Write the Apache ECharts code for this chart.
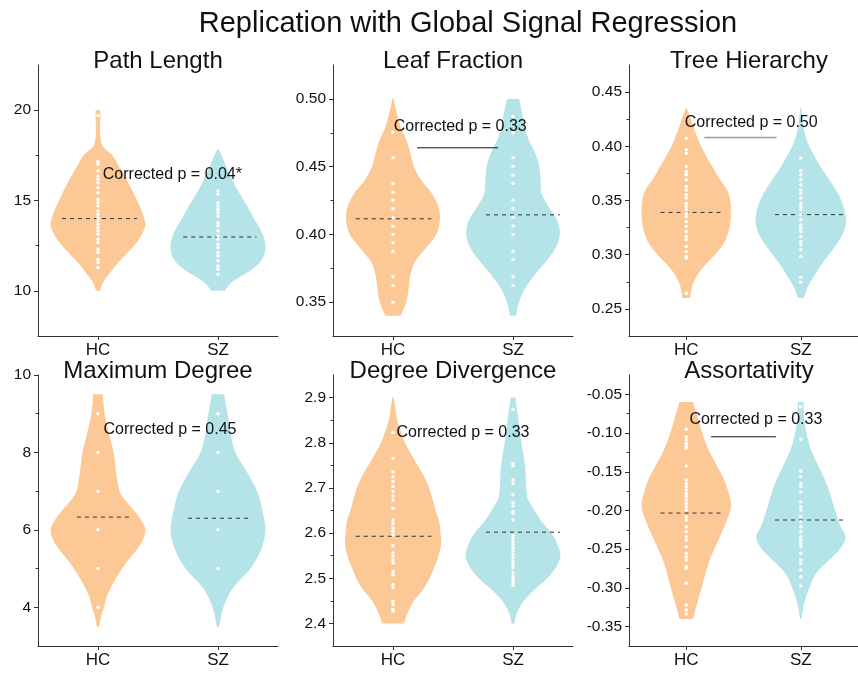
<!DOCTYPE html>
<html>
<head>
<meta charset="utf-8">
<script src="https://cdn.jsdelivr.net/npm/echarts@6/dist/echarts.min.js"></script>
<style>
html,body{margin:0;padding:0;background:#fff;}
#chart{width:858px;height:675px;}
</style>
</head>
<body>
<div id="chart"></div>
<script>
// ---------------- DATA ----------------
const categories = ['HC', 'SZ'];
const mainTitle = 'Replication with Global Signal Regression';
const panelTitles = ['Path Length', 'Leaf Fraction', 'Tree Hierarchy', 'Maximum Degree', 'Degree Divergence', 'Assortativity'];
const pLabels = ['Corrected p = 0.04*', 'Corrected p = 0.33', 'Corrected p = 0.50', 'Corrected p = 0.45', 'Corrected p = 0.33', 'Corrected p = 0.33'];

// axis extents and labelled ticks
const pathLengthRange = [7.5, 22.5];   const pathLengthTicks = [10, 15, 20];
const leafFractionRange = [0.325, 0.525]; const leafFractionTicks = [0.35, 0.40, 0.45, 0.50];
const treeHierarchyRange = [0.225, 0.475]; const treeHierarchyTicks = [0.25, 0.30, 0.35, 0.40, 0.45];
const maxDegreeRange = [3, 10];        const maxDegreeTicks = [4, 6, 8, 10];
const degreeDivRange = [2.35, 2.95];   const degreeDivTicks = [2.4, 2.5, 2.6, 2.7, 2.8, 2.9];
const assortRange = [-0.375, -0.025];  const assortTicks = [-0.35, -0.30, -0.25, -0.20, -0.15, -0.10, -0.05];

// individual subject values (white dots)
const pathLengthHC = [19.7,17.15,17.0,16.63,16.35,16.17,15.98,15.7,15.43,15.06,14.88,14.7,14.42,14.24,14.05,13.87,13.68,13.5,13.31,13.13,12.85,12.67,12.3,12.12,11.75,11.57,11.29];
const pathLengthSZ = [15.52,15.34,14.88,14.7,14.5,14.33,14.14,13.78,13.6,13.31,13.04,12.85,12.58,12.4,12.12,11.93,11.66,11.38,11.2,10.92];
const leafFractionHC = [0.4754,0.4565,0.4375,0.4311,0.4252,0.4189,0.4122,0.406,0.40,0.3938,0.3876,0.3687,0.3623,0.35];
const leafFractionSZ = [0.4872,0.4749,0.4565,0.4503,0.4437,0.4375,0.4252,0.4189,0.4127,0.4061,0.40,0.3876,0.3815,0.3687,0.3623];
const treeHierarchyHC = [0.4075,0.3968,0.3937,0.3814,0.3768,0.3737,0.3691,0.3629,0.3598,0.3552,0.3522,0.3475,0.3445,0.3414,0.3383,0.3352,0.3306,0.326,0.3214,0.3168,0.3137,0.3075,0.3029,0.2983,0.2968,0.2645];
const treeHierarchySZ = [0.3891,0.3774,0.3737,0.3691,0.3645,0.3598,0.3568,0.3522,0.3475,0.3445,0.3414,0.3368,0.3322,0.3275,0.3245,0.3214,0.3168,0.3122,0.3091,0.3045,0.2983,0.2792,0.2746];
const maxDegreeHC = [9, 8, 7, 6, 5, 4];
const maxDegreeSZ = [9, 8, 7, 6, 5];
const degreeDivHC = [2.823,2.765,2.736,2.725,2.714,2.703,2.692,2.682,2.673,2.655,2.629,2.622,2.611,2.604,2.596,2.572,2.556,2.549,2.541,2.534,2.515,2.508,2.486,2.479,2.449,2.442,2.431,2.427];
const degreeDivSZ = [2.874,2.754,2.749,2.718,2.71,2.685,2.667,2.66,2.648,2.644,2.629,2.596,2.589,2.582,2.574,2.567,2.56,2.552,2.545,2.537,2.53,2.523,2.512,2.504,2.497,2.49,2.484];
const assortHC = [-0.0952,-0.1047,-0.109,-0.1134,-0.1176,-0.1197,-0.1426,-0.1606,-0.165,-0.1693,-0.1735,-0.178,-0.182,-0.1865,-0.191,-0.195,-0.1995,-0.208,-0.2123,-0.221,-0.2274,-0.234,-0.238,-0.2467,-0.2553,-0.2596,-0.264,-0.2726,-0.2747,-0.294,-0.322,-0.3285,-0.3336];
const assortSZ = [-0.0659,-0.1081,-0.149,-0.1563,-0.165,-0.169,-0.1757,-0.1886,-0.195,-0.1995,-0.208,-0.2145,-0.221,-0.2274,-0.234,-0.238,-0.2425,-0.2467,-0.2553,-0.264,-0.2683,-0.277,-0.2855,-0.2975];

// group medians (dashed lines)
const pathLengthMedians = [14.0, 12.98];
const leafFractionMedians = [0.4115, 0.4144];
const treeHierarchyMedians = [0.339, 0.337];
const maxDegreeMedians = [6.33, 6.30];
const degreeDivMedians = [2.593, 2.602];
const assortMedians = [-0.2033, -0.2123];

// violin density profiles: [value, relative density (fraction of half band)]
const pathLengthHCViolin = [[20,0.04],[19.5,0.04],[19,0.035],[18.5,0.04],[18,0.08],[17.5,0.24],[17,0.33],[16.5,0.42],[16,0.5],[15.5,0.58],[15,0.65],[14.5,0.72],[14,0.77],[13.6,0.79],[13,0.71],[12.5,0.6],[12,0.46],[11.5,0.32],[11,0.2],[10.5,0.09],[10,0.03]];
const pathLengthSZViolin = [[17.83,0.01],[17.5,0.06],[17,0.12],[16.5,0.19],[16,0.26],[15.5,0.34],[15,0.43],[14.5,0.52],[14,0.6],[13.5,0.69],[13,0.76],[12.5,0.79],[12,0.77],[11.5,0.68],[11,0.48],[10.5,0.24],[10,0.11]];
const leafFractionHCViolin = [[0.50,0.01],[0.49,0.06],[0.48,0.12],[0.47,0.22],[0.46,0.29],[0.45,0.35],[0.44,0.47],[0.43,0.65],[0.42,0.76],[0.41,0.78],[0.40,0.72],[0.39,0.55],[0.38,0.37],[0.37,0.29],[0.36,0.26],[0.35,0.22],[0.34,0.13]];
const leafFractionSZViolin = [[0.50,0.10],[0.49,0.15],[0.48,0.19],[0.47,0.26],[0.46,0.37],[0.45,0.44],[0.44,0.46],[0.43,0.48],[0.42,0.6],[0.41,0.74],[0.40,0.78],[0.39,0.71],[0.38,0.55],[0.37,0.36],[0.36,0.2],[0.35,0.1],[0.34,0.05]];
const treeHierarchyHCViolin = [[0.435,0.01],[0.43,0.05],[0.42,0.11],[0.41,0.18],[0.40,0.26],[0.39,0.36],[0.38,0.47],[0.37,0.58],[0.36,0.71],[0.35,0.77],[0.34,0.78],[0.33,0.77],[0.32,0.73],[0.31,0.65],[0.30,0.5],[0.29,0.32],[0.28,0.18],[0.27,0.1],[0.26,0.07]];
const treeHierarchySZViolin = [[0.435,0.01],[0.43,0.02],[0.42,0.04],[0.41,0.08],[0.40,0.15],[0.39,0.25],[0.38,0.36],[0.37,0.49],[0.36,0.61],[0.35,0.71],[0.34,0.77],[0.33,0.79],[0.32,0.74],[0.31,0.63],[0.30,0.49],[0.29,0.35],[0.28,0.23],[0.27,0.12],[0.26,0.05]];
const maxDegreeHCViolin = [[9.5,0.08],[9,0.11],[8.5,0.18],[8,0.26],[7.5,0.3],[7,0.36],[6.75,0.46],[6.5,0.6],[6.25,0.72],[6,0.79],[5.75,0.75],[5.5,0.65],[5.25,0.52],[5,0.4],[4.75,0.3],[4.5,0.21],[4.25,0.14],[4,0.1],[3.75,0.05],[3.5,0.02]];
const maxDegreeSZViolin = [[9.5,0.1],[9,0.16],[8.5,0.21],[8,0.29],[7.5,0.48],[7,0.65],[6.5,0.74],[6,0.79],[5.5,0.72],[5,0.54],[4.5,0.25],[4,0.09],[3.5,0.02]];
const degreeDivHCViolin = [[2.9,0.01],[2.875,0.04],[2.85,0.07],[2.825,0.13],[2.8,0.2],[2.775,0.3],[2.75,0.41],[2.725,0.52],[2.7,0.6],[2.675,0.66],[2.65,0.71],[2.625,0.77],[2.6,0.79],[2.575,0.8],[2.55,0.76],[2.525,0.69],[2.5,0.61],[2.475,0.5],[2.45,0.35],[2.425,0.25],[2.4,0.18]];
const degreeDivSZViolin = [[2.9,0.04],[2.85,0.09],[2.8,0.14],[2.75,0.2],[2.7,0.22],[2.675,0.25],[2.65,0.36],[2.625,0.48],[2.6,0.64],[2.575,0.74],[2.55,0.79],[2.525,0.72],[2.5,0.57],[2.475,0.36],[2.45,0.18],[2.425,0.07],[2.4,0.02]];
const assortHCViolin = [[-0.06,0.12],[-0.08,0.2],[-0.1,0.28],[-0.12,0.38],[-0.14,0.52],[-0.16,0.66],[-0.18,0.75],[-0.19,0.78],[-0.2,0.77],[-0.22,0.67],[-0.24,0.55],[-0.26,0.43],[-0.28,0.34],[-0.30,0.27],[-0.32,0.19],[-0.34,0.12]];
const assortSZViolin = [[-0.06,0.05],[-0.08,0.06],[-0.1,0.1],[-0.12,0.17],[-0.14,0.29],[-0.16,0.42],[-0.18,0.52],[-0.2,0.6],[-0.22,0.69],[-0.235,0.78],[-0.25,0.68],[-0.26,0.55],[-0.28,0.28],[-0.30,0.15],[-0.32,0.06],[-0.34,0.01]];

// ---------------- LAYOUT / STYLE ----------------
const FONT = "'Liberation Sans', Arial, Helvetica, sans-serif";
const groupColors = ['#FCC896', '#B4E3E8'];
const gridPos = [[38, 65], [333, 65], [629, 65], [38, 375], [333, 375], [629, 375]];
const gridW = 240, gridH = 271;
const titleY = [61.5, 61.5, 61.5, 371, 371, 371];
const decimals = [0, 2, 2, 0, 1, 2];
const annoLayout = [
  { tx: 0.62, ty: 16.45, line: null },
  { tx: 0.56, ty: 0.4796, line: { x1: 0.2, x2: 0.875, y: 0.4639, color: '#111', w: 1 } },
  { tx: 0.567, ty: 0.422, line: { x1: 0.158, x2: 0.79, y: 0.4081, color: '#9c9c9c', w: 1.5 } },
  { tx: 0.6, ty: 8.58, line: null },
  { tx: 0.583, ty: 2.823, line: null },
  { tx: 0.608, ty: -0.0832, line: { x1: 0.217, x2: 0.783, y: -0.1048, color: '#111', w: 1 } }
];
const medianSpan = [
  [[-0.30, 0.325], [-0.29, 0.32]],
  [[-0.31, 0.32], [-0.225, 0.39]],
  [[-0.225, 0.32], [-0.225, 0.39]],
  [[-0.175, 0.26], [-0.25, 0.26]],
  [[-0.31, 0.32], [-0.225, 0.39]],
  [[-0.225, 0.32], [-0.225, 0.39]]
];

const panels = [
  { range: pathLengthRange, ticks: pathLengthTicks, points: [pathLengthHC, pathLengthSZ], profiles: [pathLengthHCViolin, pathLengthSZViolin], medians: pathLengthMedians },
  { range: leafFractionRange, ticks: leafFractionTicks, points: [leafFractionHC, leafFractionSZ], profiles: [leafFractionHCViolin, leafFractionSZViolin], medians: leafFractionMedians },
  { range: treeHierarchyRange, ticks: treeHierarchyTicks, points: [treeHierarchyHC, treeHierarchySZ], profiles: [treeHierarchyHCViolin, treeHierarchySZViolin], medians: treeHierarchyMedians },
  { range: maxDegreeRange, ticks: maxDegreeTicks, points: [maxDegreeHC, maxDegreeSZ], profiles: [maxDegreeHCViolin, maxDegreeSZViolin], medians: maxDegreeMedians },
  { range: degreeDivRange, ticks: degreeDivTicks, points: [degreeDivHC, degreeDivSZ], profiles: [degreeDivHCViolin, degreeDivSZViolin], medians: degreeDivMedians },
  { range: assortRange, ticks: assortTicks, points: [assortHC, assortSZ], profiles: [assortHCViolin, assortSZViolin], medians: assortMedians }
];

// smooth outline rendering (Catmull-Rom through the read profile points)
function smoothSide(pts) {
  const out = [];
  const n = pts.length;
  for (let i = 0; i < n - 1; i++) {
    const p0 = pts[Math.max(i - 1, 0)], p1 = pts[i], p2 = pts[i + 1], p3 = pts[Math.min(i + 2, n - 1)];
    const steps = 8;
    for (let s = 0; s < steps; s++) {
      const t = s / steps, t2 = t * t, t3 = t2 * t;
      const x = 0.5 * ((2 * p1[0]) + (-p0[0] + p2[0]) * t + (2 * p0[0] - 5 * p1[0] + 4 * p2[0] - p3[0]) * t2 + (-p0[0] + 3 * p1[0] - 3 * p2[0] + p3[0]) * t3);
      const y = 0.5 * ((2 * p1[1]) + (-p0[1] + p2[1]) * t + (2 * p0[1] - 5 * p1[1] + 4 * p2[1] - p3[1]) * t2 + (-p0[1] + 3 * p1[1] - 3 * p2[1] + p3[1]) * t3);
      out.push([x, y]);
    }
  }
  out.push(pts[n - 1]);
  return out;
}

const grid = [], xAxis = [], yAxis = [], series = [], graphic = [];

graphic.push({
  type: 'text', x: 468, y: 24,
  style: { text: mainTitle, font: '29px ' + FONT, fill: '#111', align: 'center', verticalAlign: 'middle' }
});

panels.forEach((p, i) => {
  const [gl, gt] = gridPos[i];
  grid.push({ left: gl, top: gt, width: gridW, height: gridH, containLabel: false });
  graphic.push({
    type: 'text', x: gl + gridW / 2, y: titleY[i],
    style: { text: panelTitles[i], font: '24px ' + FONT, fill: '#111', align: 'center', verticalAlign: 'middle' }
  });
  xAxis.push({
    type: 'category', gridIndex: i, data: categories,
    axisLine: { show: true, lineStyle: { color: '#333', width: 1 } },
    axisTick: { show: true, alignWithLabel: true, length: 4, lineStyle: { color: '#333' } },
    axisLabel: { fontSize: 17, fontFamily: FONT, color: '#111', margin: 6 },
    splitLine: { show: false }
  });
  const step = p.ticks[1] - p.ticks[0];
  const minors = [];
  for (let k = 0; k < p.ticks.length - 1; k++) minors.push(+(p.ticks[k] + step / 2).toFixed(6));
  yAxis.push({
    type: 'value', gridIndex: i, min: p.range[0], max: p.range[1], interval: +(step / 2).toFixed(6),
    axisLine: { show: true, lineStyle: { color: '#333', width: 1 } },
    axisTick: { show: true, length: 4, customValues: p.ticks, lineStyle: { color: '#333' } },
    axisLabel: { customValues: p.ticks, fontSize: 15.5, fontFamily: FONT, color: '#111', margin: 7,
      formatter: v => Number(v).toFixed(decimals[i]) },
    splitLine: { show: false }
  });
  yAxis.push({
    type: 'value', gridIndex: i, position: 'left', offset: 0, min: p.range[0], max: p.range[1], interval: +(step / 2).toFixed(6),
    axisLine: { show: false },
    axisTick: { show: true, length: 2.5, customValues: minors, lineStyle: { color: '#333' } },
    axisLabel: { show: false },
    splitLine: { show: false }
  });
  const xi = i, yi = 2 * i;
  const medData = categories.map((c, k) => [k, p.medians[k]]);
  // violins
  series.push({
    type: 'custom', xAxisIndex: xi, yAxisIndex: yi, silent: true, z: 1,
    data: medData,
    renderItem: (params, api) => {
      const k = api.value(0);
      const prof = p.profiles[k];
      const band = api.size([1, 0])[0];
      const cx = api.coord([k, p.medians[k]])[0];
      const right = smoothSide(prof.map(([v, d]) => [cx + d * band / 2, api.coord([k, v])[1]]));
      const left = smoothSide(prof.slice().reverse().map(([v, d]) => [cx - d * band / 2, api.coord([k, v])[1]]));
      return { type: 'polygon', shape: { points: right.concat(left) }, style: { fill: groupColors[k] } };
    }
  });
  // median dashed lines
  series.push({
    type: 'custom', xAxisIndex: xi, yAxisIndex: yi, silent: true, z: 2,
    data: medData,
    renderItem: (params, api) => {
      const k = api.value(0);
      const band = api.size([1, 0])[0];
      const pt = api.coord([k, api.value(1)]);
      const sp = medianSpan[i][k];
      return { type: 'line', shape: { x1: pt[0] + sp[0] * band, y1: pt[1], x2: pt[0] + sp[1] * band, y2: pt[1] },
        style: { stroke: '#333', lineWidth: 1, lineDash: [4, 4] } };
    }
  });
  // dots
  series.push({
    type: 'scatter', xAxisIndex: xi, yAxisIndex: yi, silent: true, z: 3,
    symbol: 'circle', symbolSize: 3.5,
    itemStyle: { color: '#ffffff', opacity: 1 },
    data: p.points[0].map(v => [0, v]).concat(p.points[1].map(v => [1, v]))
  });
  // annotation
  const an = annoLayout[i];
  series.push({
    type: 'custom', xAxisIndex: xi, yAxisIndex: yi, silent: true, z: 5,
    data: [[0, an.ty]],
    renderItem: (params, api) => {
      const x0 = api.coord([0, an.ty])[0], x1 = api.coord([1, an.ty])[0];
      const ty = api.coord([0, an.ty])[1];
      const children = [{
        type: 'text', x: x0 + an.tx * (x1 - x0), y: ty,
        style: { text: pLabels[i], font: '16px ' + FONT, fill: '#111', align: 'center', verticalAlign: 'middle' }
      }];
      if (an.line) {
        const ly = api.coord([0, an.line.y])[1];
        children.push({ type: 'line', shape: { x1: x0 + an.line.x1 * (x1 - x0), y1: ly, x2: x0 + an.line.x2 * (x1 - x0), y2: ly },
          style: { stroke: an.line.color, lineWidth: an.line.w } });
      }
      return { type: 'group', children };
    }
  });
});

const chart = echarts.init(document.getElementById('chart'), null, { renderer: 'canvas' });
chart.setOption({
  animation: false,
  backgroundColor: '#ffffff',
  textStyle: { fontFamily: FONT },
  grid, xAxis, yAxis, series, graphic
});
</script>
</body>
</html>
